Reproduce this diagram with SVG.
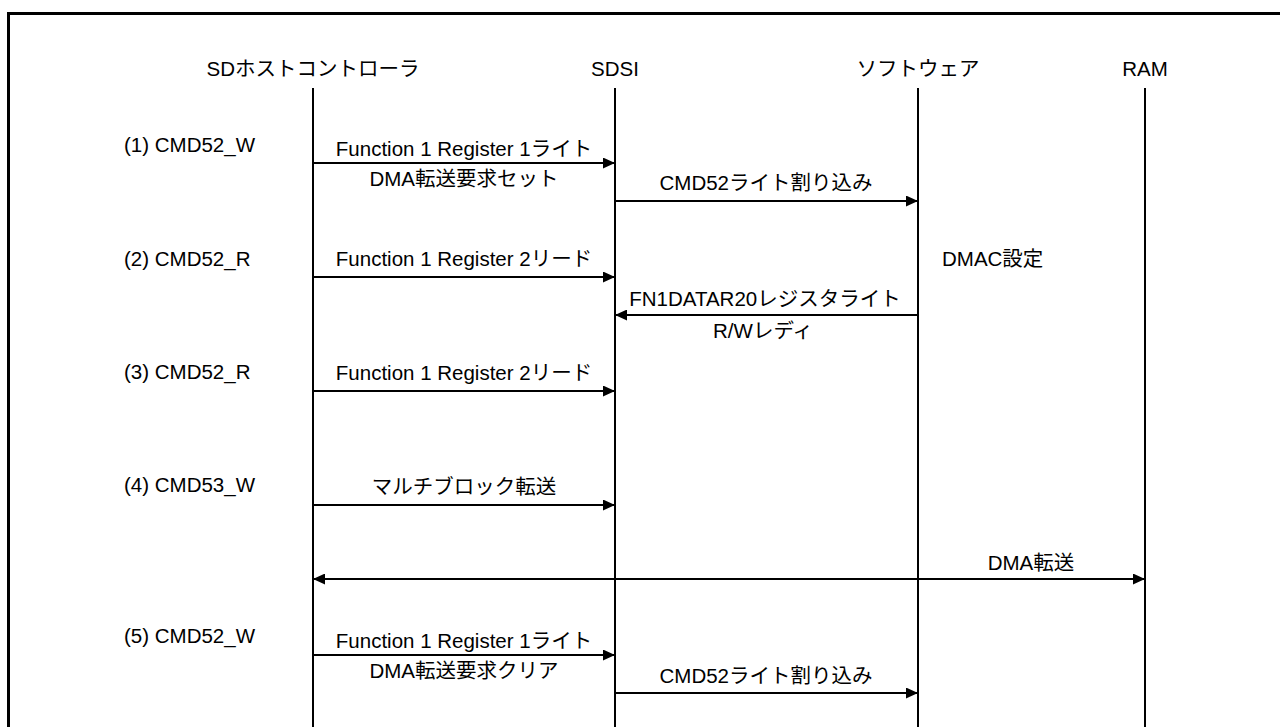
<svg xmlns="http://www.w3.org/2000/svg" width="1280" height="727" viewBox="0 0 1280 727">
<style>
text{font-family:"Liberation Sans","Noto Sans CJK JP",sans-serif;font-size:20.5px;fill:#000}
.c{text-anchor:middle}
.life{stroke:#000;stroke-width:2;fill:none}
.msg{stroke:#000;stroke-width:2;fill:none;marker-end:url(#ah)}
.bi{stroke:#000;stroke-width:2;fill:none;marker-end:url(#ah);marker-start:url(#ah)}
</style>
<defs>
<marker id="ah" markerUnits="userSpaceOnUse" markerWidth="12" markerHeight="11" refX="12" refY="5.5" orient="auto-start-reverse">
<path d="M0,0 L12,5.5 L0,11 z" fill="#000"/>
</marker>
</defs>
<rect width="1280" height="727" fill="#fff"/>
<path d="M8.5,727 V13.5 H1280" stroke="#000" stroke-width="3" fill="none"/>
<g id="host">
<text class="c" x="313" y="76">SDホストコントローラ</text>
<line class="life" x1="313" y1="88" x2="313" y2="727"/>
</g>
<g id="sdsi">
<text class="c" x="615" y="76">SDSI</text>
<line class="life" x1="615" y1="88" x2="615" y2="727"/>
</g>
<g id="software">
<text class="c" x="918" y="76">ソフトウェア</text>
<line class="life" x1="918" y1="88" x2="918" y2="727"/>
</g>
<g id="ram">
<text class="c" x="1145" y="76">RAM</text>
<line class="life" x1="1145" y1="88" x2="1145" y2="727"/>
</g>
<g id="steps">
<text x="124" y="152">(1) CMD52_W</text>
<text x="124" y="266">(2) CMD52_R</text>
<text x="124" y="379">(3) CMD52_R</text>
<text x="124" y="492">(4) CMD53_W</text>
<text x="124" y="643">(5) CMD52_W</text>
<text x="942" y="266">DMAC設定</text>
</g>
<g id="connectors">
<line class="msg" x1="313" y1="163" x2="615" y2="163"/>
<text class="c" x="464" y="156">Function 1 Register 1ライト</text>
<text class="c" x="464" y="186">DMA転送要求セット</text>
<line class="msg" x1="615" y1="201" x2="918" y2="201"/>
<text class="c" x="766" y="190">CMD52ライト割り込み</text>
<line class="msg" x1="313" y1="277" x2="615" y2="277"/>
<text class="c" x="464" y="266">Function 1 Register 2リード</text>
<line class="msg" x1="918" y1="315" x2="615" y2="315"/>
<text class="c" x="765" y="306">FN1DATAR20レジスタライト</text>
<text class="c" x="763" y="338">R/Wレディ</text>
<line class="msg" x1="313" y1="391" x2="615" y2="391"/>
<text class="c" x="464" y="380">Function 1 Register 2リード</text>
<line class="msg" x1="313" y1="505" x2="615" y2="505"/>
<text class="c" x="464" y="494">マルチブロック転送</text>
<line class="bi" x1="313" y1="579" x2="1145" y2="579"/>
<text class="c" x="1031" y="570">DMA転送</text>
<line class="msg" x1="313" y1="655" x2="615" y2="655"/>
<text class="c" x="464" y="648">Function 1 Register 1ライト</text>
<text class="c" x="464" y="678">DMA転送要求クリア</text>
<line class="msg" x1="615" y1="693" x2="918" y2="693"/>
<text class="c" x="766" y="683">CMD52ライト割り込み</text>
</g>
</svg>
